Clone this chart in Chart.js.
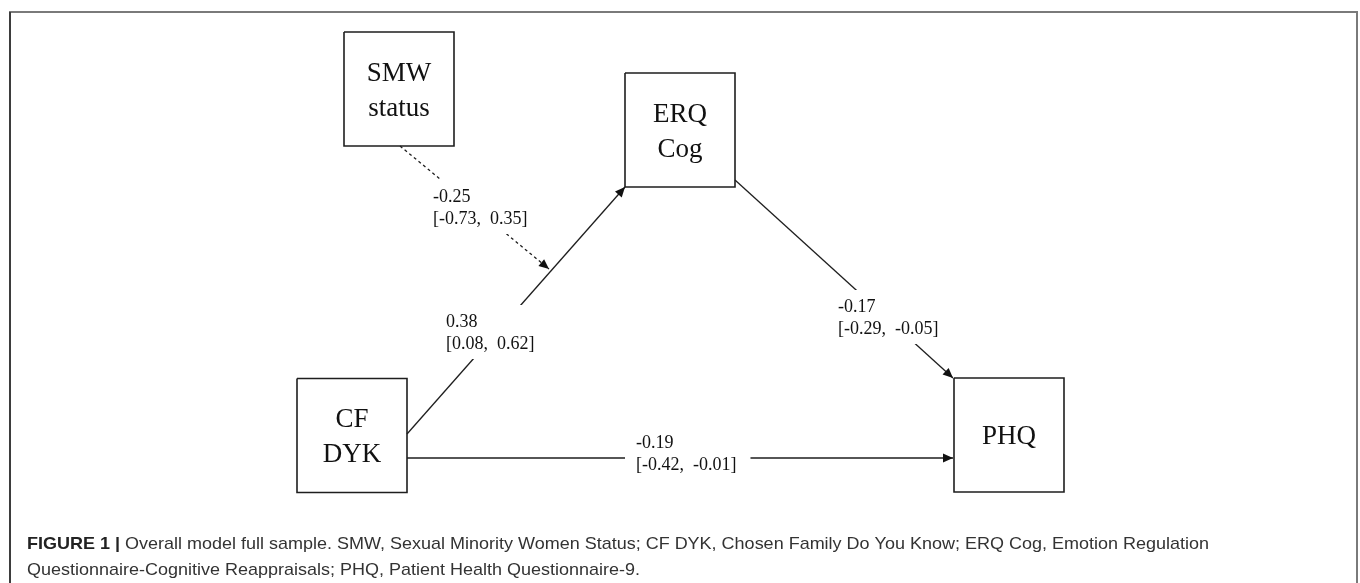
<!DOCTYPE html>
<html>
<head>
<meta charset="utf-8">
<script src="https://cdn.jsdelivr.net/npm/chart.js@4"></script>
<style>
  html, body { margin: 0; padding: 0; background: #fff; }
  #wrap { width: 1360px; height: 583px; position: relative; }
</style>
</head>
<body>
<div id="wrap"><canvas id="c"></canvas></div>
<script>
// ---------- DATA ----------
const nodeLabels = [['SMW', 'status'], ['ERQ', 'Cog'], ['CF', 'DYK'], ['PHQ']];
const pathNames = ['CF DYK -> ERQ Cog', 'ERQ Cog -> PHQ', 'CF DYK -> PHQ', 'SMW status -> (CF DYK -> ERQ Cog)'];
const pathEstimate = ['0.38', '-0.17', '-0.19', '-0.25'];
const ciLower = ['0.08', '-0.29', '-0.42', '-0.73'];
const ciUpper = ['0.62', '-0.05', '-0.01', '0.35'];
const pathDashed = [false, false, false, true];
const captionBold = 'FIGURE 1 | ';
const captionLine1 = 'Overall model full sample. SMW, Sexual Minority Women Status; CF DYK, Chosen Family Do You Know; ERQ Cog, Emotion Regulation';
const captionLine2 = 'Questionnaire-Cognitive Reappraisals; PHQ, Patient Health Questionnaire-9.';

// ---------- LAYOUT (diagram coordinates, same units as axes) ----------
const nodeCX = [399, 680, 352, 1009];
const nodeCY = [89, 130, 435.5, 435];
const NODE_W = 110, NODE_H = 114;
const edgeFromX = [407, 735, 407, 400];
const edgeFromY = [434, 180, 458, 146];
const edgeToX = [625, 953, 953, 549];
const edgeToY = [187, 378, 458, 269];
const labelX = [446, 838, 636, 433];
const labelY = [322, 307, 443, 197];

// ---------- DATASETS ----------
const datasets = [];
nodeLabels.forEach((lab, i) => {
  const x0 = nodeCX[i] - NODE_W / 2, x1 = nodeCX[i] + NODE_W / 2;
  const y0 = nodeCY[i] - NODE_H / 2, y1 = nodeCY[i] + NODE_H / 2;
  datasets.push({
    label: lab.join(' '),
    data: [{x: x0, y: y0}, {x: x1, y: y0}, {x: x1, y: y1}, {x: x0, y: y1}, {x: x0, y: y0}],
    showLine: true, borderColor: '#1e1e1e', borderWidth: 1.6, pointRadius: 0,
    fill: false, tension: 0, borderJoinStyle: 'miter'
  });
});
pathNames.forEach((nm, i) => {
  datasets.push({
    label: nm,
    data: [{x: edgeFromX[i], y: edgeFromY[i]}, {x: edgeToX[i], y: edgeToY[i]}],
    showLine: true, borderColor: '#1e1e1e', borderWidth: 1.3, pointRadius: 0,
    borderDash: pathDashed[i] ? [3, 3] : [], fill: false, tension: 0
  });
});

// ---------- PLUGINS ----------
const diagramPlugin = {
  id: 'diagram',
  beforeDraw(chart) {
    const ctx = chart.ctx;
    ctx.save();
    ctx.fillStyle = '#fff';
    ctx.fillRect(0, 0, chart.width, chart.height);
    // frame
    ctx.strokeStyle = '#7a7a7a';
    ctx.lineWidth = 2;
    ctx.beginPath();
    ctx.moveTo(10, 600); ctx.lineTo(10, 12); ctx.lineTo(1357, 12); ctx.lineTo(1357, 600);
    ctx.stroke();
    ctx.strokeStyle = '#2a2a2a';
    ctx.lineWidth = 1.5;
    ctx.beginPath(); ctx.moveTo(10, 600); ctx.lineTo(10, 12); ctx.stroke();
    ctx.restore();
  },
  afterDatasetsDraw(chart) {
    const ctx = chart.ctx;
    const xs = chart.scales.x, ys = chart.scales.y;
    ctx.save();
    // arrowheads
    pathNames.forEach((nm, i) => {
      const fx = xs.getPixelForValue(edgeFromX[i]), fy = ys.getPixelForValue(edgeFromY[i]);
      const tx = xs.getPixelForValue(edgeToX[i]), ty = ys.getPixelForValue(edgeToY[i]);
      const a = Math.atan2(ty - fy, tx - fx);
      const L = 10, W = 4.5;
      ctx.fillStyle = '#111';
      ctx.beginPath();
      ctx.moveTo(tx, ty);
      ctx.lineTo(tx - L * Math.cos(a) + W * Math.sin(a), ty - L * Math.sin(a) - W * Math.cos(a));
      ctx.lineTo(tx - L * Math.cos(a) - W * Math.sin(a), ty - L * Math.sin(a) + W * Math.cos(a));
      ctx.closePath();
      ctx.fill();
    });
    // path labels with gap behind them
    ctx.font = '18px "Liberation Serif", "Times New Roman", serif';
    ctx.textBaseline = 'middle';
    ctx.textAlign = 'left';
    pathNames.forEach((nm, i) => {
      const lx = xs.getPixelForValue(labelX[i]), ly = ys.getPixelForValue(labelY[i]);
      const l1 = pathEstimate[i];
      const l2 = '[' + ciLower[i] + ',  ' + ciUpper[i] + ']';
      const w = Math.max(ctx.measureText(l1).width, ctx.measureText(l2).width);
      ctx.fillStyle = '#fff';
      ctx.fillRect(lx - 11, ly - 17, w + 25, 22 + 32);
      ctx.fillStyle = '#111';
      ctx.fillText(l1, lx, ly);
      ctx.fillText(l2, lx, ly + 22);
    });
    // node labels
    ctx.font = '27px "Liberation Serif", "Times New Roman", serif';
    ctx.textAlign = 'center';
    ctx.fillStyle = '#111';
    nodeLabels.forEach((lab, i) => {
      const cx = xs.getPixelForValue(nodeCX[i]), cy = ys.getPixelForValue(nodeCY[i]);
      const n = lab.length, sp = 35;
      lab.forEach((t, k) => {
        ctx.fillText(t, cx, cy + 2 + (k - (n - 1) / 2) * sp);
      });
    });
    // caption
    const boldFont = 'bold 17px "Liberation Sans", Arial, sans-serif';
    const regFont = '17px "Liberation Sans", Arial, sans-serif';
    ctx.textAlign = 'left';
    ctx.font = boldFont;
    const wb = ctx.measureText(captionBold).width;
    ctx.font = regFont;
    const w1 = ctx.measureText(captionLine1).width;
    const sx = (1209 - 27) / (wb + w1);
    ctx.translate(27, 0);
    ctx.scale(sx, 1);
    ctx.font = boldFont;
    ctx.fillStyle = '#222';
    ctx.fillText(captionBold, 0, 544);
    ctx.font = regFont;
    ctx.fillStyle = '#333';
    ctx.fillText(captionLine1, wb, 544);
    ctx.fillText(captionLine2, 0, 570);
    ctx.restore();
  }
};

new Chart(document.getElementById('c'), {
  type: 'scatter',
  data: { datasets },
  options: {
    responsive: true,
    maintainAspectRatio: false,
    animation: false,
    layout: { padding: 0 },
    plugins: { legend: { display: false }, tooltip: { enabled: false }, title: { display: false } },
    events: [],
    scales: {
      x: { type: 'linear', min: 0, max: 1360, display: false },
      y: { type: 'linear', min: 0, max: 583, reverse: true, display: false }
    }
  },
  plugins: [diagramPlugin]
});
</script>
</body>
</html>
